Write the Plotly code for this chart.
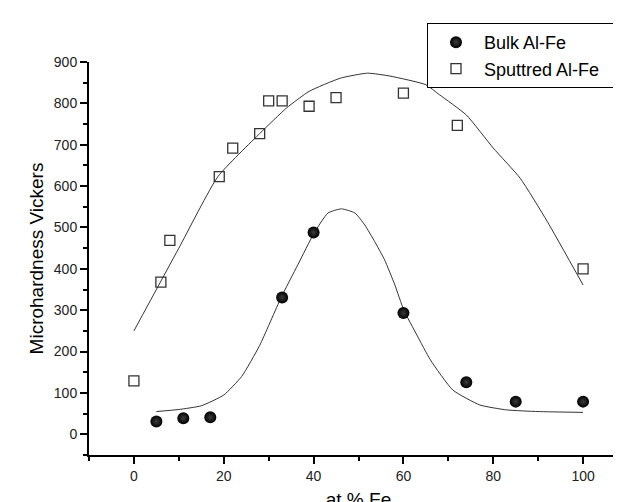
import plotly.graph_objects as go

# Measured data
bulk_x = [5, 11, 17, 33, 40, 60, 74, 85, 100]
bulk_y = [31, 39, 41, 331, 488, 293, 126, 79, 79]

sput_x = [0, 6, 8, 19, 22, 28, 30, 33, 39, 45, 60, 72, 100]
sput_y = [129, 368, 469, 623, 692, 727, 806, 806, 793, 814, 825, 747, 400]

# Fit curves
bulk_fit_x = [5, 10, 15, 20, 24, 28, 32.7, 36.5, 40.2, 43.2, 46.2, 49.2, 51.4, 53.6,
              55.8, 58.1, 60.1, 63, 66, 71, 77, 83, 90, 100]
bulk_fit_y = [55, 60, 69, 95, 140, 215, 329, 410, 488, 535, 545, 535, 506, 466,
              422, 361, 300, 240, 180, 107, 71, 59, 55, 53]

sput_fit_x = [0, 10, 18.7, 28, 34, 39, 46, 52, 57, 65, 68, 74, 80, 86, 92, 100]
sput_fit_y = [250, 450, 623, 727, 789, 829, 861, 873, 866, 845, 821, 772, 692, 619, 515, 361]

x_ticks = [0, 20, 40, 60, 80, 100]
y_ticks = [0, 100, 200, 300, 400, 500, 600, 700, 800, 900]

FONT = "Arial, Liberation Sans, sans-serif"

fig = go.Figure()

fig.add_trace(go.Scatter(
    x=sput_fit_x, y=sput_fit_y, mode="lines",
    line=dict(color="#333333", width=1, shape="spline", smoothing=0.5),
    showlegend=False, hoverinfo="skip"))
fig.add_trace(go.Scatter(
    x=bulk_fit_x, y=bulk_fit_y, mode="lines",
    line=dict(color="#333333", width=1, shape="spline", smoothing=0.5),
    showlegend=False, hoverinfo="skip"))

fig.add_trace(go.Scatter(
    x=bulk_x, y=bulk_y, mode="markers", name="Bulk Al-Fe",
    marker=dict(symbol="circle", size=12, color="#000000",
                gradient=dict(type="radial", color="#3c3c3c"),
                line=dict(width=0))))
fig.add_trace(go.Scatter(
    x=sput_x, y=sput_y, mode="markers", name="Sputtred Al-Fe\u00a0\u00a0\u00a0",
    marker=dict(symbol="square-open", size=10, color="#333333",
                line=dict(width=1.3, color="#333333"))))

axis_common = dict(
    showgrid=False, zeroline=False, showline=True, linecolor="black", linewidth=2,
    ticks="outside", ticklen=7, tickwidth=1.5, tickcolor="black", automargin=False,
    tickfont=dict(family=FONT, size=14, color="#222222"),
)

fig.update_xaxes(
    range=[-10, 110], tickmode="array", tickvals=x_ticks,
    ticktext=[str(v) for v in x_ticks],
    minor=dict(dtick=10, tick0=0, ticks="outside", ticklen=4, tickwidth=1.5, tickcolor="black"),
    title=dict(text="at % Fe", font=dict(family=FONT, size=19, color="black"), standoff=14),
    **axis_common)
fig.update_yaxes(
    range=[-50, 900], tickmode="array", tickvals=y_ticks,
    ticktext=[str(v) for v in y_ticks],
    minor=dict(dtick=50, tick0=0, ticks="outside", ticklen=4, tickwidth=1.5, tickcolor="black"),
    title=dict(text="Microhardness Vickers", font=dict(family=FONT, size=19, color="black"), standoff=5),
    **axis_common)

fig.update_layout(
    width=621, height=502,
    margin=dict(l=81, r=1, t=54, b=55, autoexpand=False),
    plot_bgcolor="white", paper_bgcolor="white",
    legend=dict(
        xref="container", yref="container",
        x=419 / 621, y=1 - 15 / 502, xanchor="left", yanchor="top",
        bgcolor="white", bordercolor="black", borderwidth=1,
        font=dict(family=FONT, size=18, color="black"),
        itemwidth=46, tracegroupgap=0,
    ),
)

fig.write_html("out.html")
